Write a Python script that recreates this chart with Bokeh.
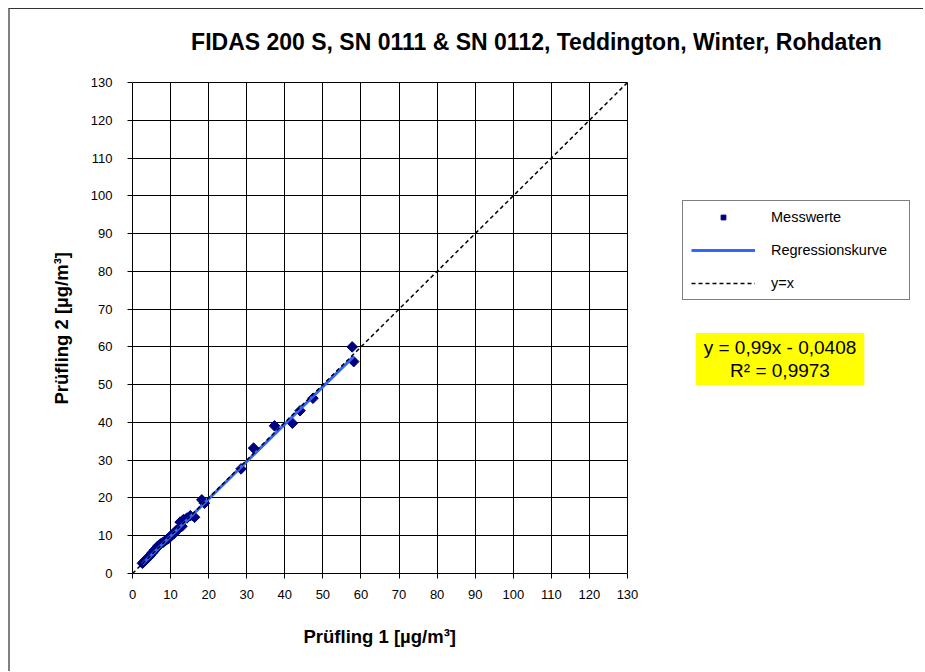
import numpy as np
from bokeh.plotting import figure
from bokeh.models import (Range1d, FixedTicker, Label, Legend, LegendItem,
                          ColumnDataSource, Title)
from bokeh.embed import file_html
from bokeh.resources import INLINE

# ---- data ----
title_text = "FIDAS 200 S, SN 0111 & SN 0112, Teddington, Winter, Rohdaten"
x_label = "Prüfling 1 [µg/m³]"
y_label = "Prüfling 2 [µg/m³]"
ticks = list(range(0, 131, 10))
axis_min, axis_max = 0, 130

pruefling1 = [2.6, 3.0, 3.5, 3.9, 4.3, 4.7, 5.1, 5.5, 5.9, 6.3, 6.7, 7.1, 7.6, 8.0,
              8.5, 9.0, 9.5, 10.0, 10.5, 11.0, 11.5, 12.1, 12.5, 13.0, 13.4, 14.3,
              15.2, 16.3, 18.2, 18.9, 28.5, 31.8, 37.3, 42.0, 44.0, 47.4, 57.7, 58.1]
pruefling2 = [2.7, 3.1, 3.6, 4.1, 4.4, 4.9, 5.4, 5.8, 6.3, 6.8, 7.3, 7.6, 8.0, 8.2,
              8.6, 9.0, 9.3, 9.9, 10.3, 10.7, 11.4, 11.8, 13.6, 12.5, 14.3, 14.7,
              15.3, 14.9, 19.5, 18.6, 27.7, 33.2, 39.1, 39.8, 43.1, 46.4, 60.0, 56.1]

slope = 0.99
intercept = -0.0408
eq_text = "y = 0,99x - 0,0408\nR² = 0,9973"

# ---- layout (pixels) ----
FONT = "Liberation Sans"
W, H = 915, 663
B_LEFT, B_BOTTOM = 122, 99
PLOT_W, PLOT_H = 495, 491          # pixel size of the 0..130 square
frame_w = W - B_LEFT
frame_h = H - B_BOTTOM
x_end = axis_max * frame_w / PLOT_W
y_end = axis_max * frame_h / PLOT_H

p = figure(width=W, height=H, output_backend="svg", toolbar_location=None,
           title=None,
           x_range=Range1d(axis_min, x_end), y_range=Range1d(axis_min, y_end),
           min_border_left=B_LEFT, min_border_top=0, min_border_right=0,
           min_border_bottom=B_BOTTOM)
p.styles = {"border-left": "2px solid #808080", "border-top": "1px solid #333333",
            "margin-left": "8px", "margin-top": "8px"}
p.outline_line_color = None
p.background_fill_color = "white"
p.border_fill_color = "white"

for ax in (p.xaxis[0], p.yaxis[0]):
    ax.ticker = FixedTicker(ticks=ticks)
    ax.bounds = (axis_min, axis_max)
    ax.minor_tick_line_color = None
    ax.major_tick_out = 5
    ax.major_tick_in = 0
    ax.axis_line_color = "black"
    ax.major_tick_line_color = "black"
    ax.major_label_text_font = FONT
    ax.major_label_text_font_size = "13px"
    ax.major_label_text_color = "black"

p.xaxis[0].major_label_standoff = 11
p.yaxis[0].major_label_standoff = 15

# small blank spacers between the axes and their titles
p.add_layout(Title(text=" ", standoff=0, text_font=FONT, text_font_size="6px"), "below")
p.add_layout(Title(text=" ", standoff=0, text_font=FONT, text_font_size="3px"), "left")

# axis titles as panel titles so they can be centred on the 0..130 square
p.add_layout(Title(text=x_label, align="left", offset=171, standoff=29,
                   vertical_align="bottom",
                   text_font=FONT, text_font_style="bold", text_font_size="18.5px",
                   text_color="black"), "below")
p.add_layout(Title(text=y_label, align="left", offset=169, standoff=22,
                   text_font=FONT, text_font_style="bold", text_font_size="18.5px",
                   text_color="black"), "left")

for g in (p.xgrid[0], p.ygrid[0]):
    g.ticker = FixedTicker(ticks=ticks)
    g.bounds = (axis_min, axis_max)
    g.cross_bounds = (axis_min, axis_max)
    g.grid_line_color = "black"
    g.grid_line_width = 1

# points
src = ColumnDataSource(dict(x=pruefling1, y=pruefling2))
pts = p.scatter("x", "y", source=src, marker="square", angle=np.pi / 4,
                size=7.5, fill_color="#000080", line_color="#000080")

# regression line
xmin, xmax = min(pruefling1), max(pruefling1)
reg = p.line([xmin, xmax], [slope * xmin + intercept, slope * xmax + intercept],
             line_color="#3366FF", line_width=3)

# y = x
ident = p.line([axis_min, axis_max], [axis_min, axis_max], line_color="black",
               line_width=1.5, line_dash="4 3")

# title
p.add_layout(Label(x=404, y=532, x_units="screen", y_units="screen", text=title_text,
                   text_font=FONT, text_font_style="bold", text_font_size="23px",
                   text_align="center", text_baseline="middle", text_color="black"))

# equation box
p.add_layout(Label(x=647.5, y=214.5, x_units="screen", y_units="screen", text=eq_text,
                   text_font=FONT, text_font_size="19px", text_align="center",
                   text_baseline="middle", text_color="black", text_line_height=1.1,
                   background_fill_color="#FFFF00", padding=(8, 4)))

legend = Legend(items=[LegendItem(label="Messwerte", renderers=[pts]),
                       LegendItem(label="Regressionskurve", renderers=[reg]),
                       LegendItem(label="y=x", renderers=[ident])],
                location=(550, 273), orientation="vertical",
                glyph_width=64, glyph_height=12, label_height=12, label_width=130,
                label_standoff=16, spacing=17, padding=8,
                label_text_font=FONT, label_text_font_size="14.5px",
                label_text_color="black",
                border_line_color="black", border_line_width=1,
                background_fill_color="white")
p.add_layout(legend)

open("out.html", "w").write(file_html(p, INLINE))
